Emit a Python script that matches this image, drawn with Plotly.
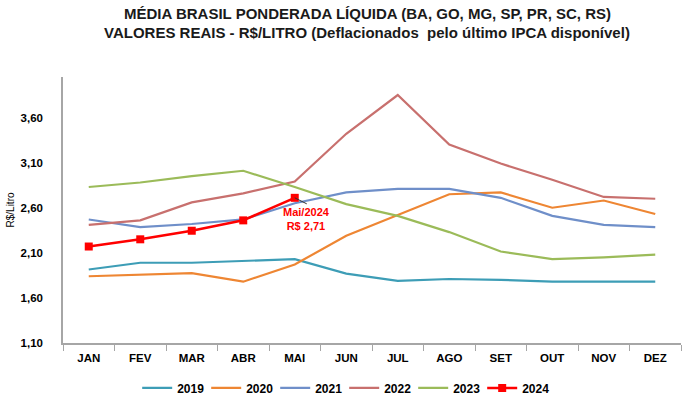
import plotly.graph_objects as go

months = ["JAN", "FEV", "MAR", "ABR", "MAI", "JUN", "JUL", "AGO", "SET", "OUT", "NOV", "DEZ"]
y2019 = [1.915, 1.99, 1.99, 2.01, 2.03, 1.87, 1.79, 1.81, 1.80, 1.78, 1.78, 1.78]
y2020 = [1.84, 1.86, 1.875, 1.78, 1.97, 2.29, 2.52, 2.75, 2.77, 2.60, 2.68, 2.53]
y2021 = [2.47, 2.385, 2.42, 2.47, 2.65, 2.77, 2.81, 2.81, 2.71, 2.51, 2.41, 2.385]
y2022 = [2.41, 2.46, 2.66, 2.76, 2.89, 3.42, 3.85, 3.30, 3.09, 2.91, 2.72, 2.70]
y2023 = [2.83, 2.88, 2.95, 3.01, 2.83, 2.64, 2.51, 2.33, 2.115, 2.03, 2.05, 2.08]
y2024 = [2.17, 2.25, 2.345, 2.46, 2.71]
ytick_vals = [1.10, 1.60, 2.10, 2.60, 3.10, 3.60]
ytick_text = ["1,10", "1,60", "2,10", "2,60", "3,10", "3,60"]
title_lines = ["MÉDIA BRASIL PONDERADA LÍQUIDA (BA, GO, MG, SP, PR, SC, RS)",
               "VALORES REAIS - R$/LITRO (Deflacionados  pelo último IPCA disponível)"]

series = [
    ("2019", y2019, "#3D9DB6"),
    ("2020", y2020, "#EE8633"),
    ("2021", y2021, "#6F8FC9"),
    ("2022", y2022, "#C8706E"),
    ("2023", y2023, "#9BBB59"),
]

font_family = "Liberation Sans, Arial, sans-serif"

fig = go.Figure()
for name, vals, col in series:
    fig.add_trace(go.Scatter(x=months[:len(vals)], y=vals, name="<b>" + name + "</b>", mode="lines",
                             line=dict(color=col, width=2.2)))
fig.add_trace(go.Scatter(x=months[:len(y2024)], y=y2024, name="<b>2024</b>", mode="lines+markers",
                         line=dict(color="#FF0000", width=2.6),
                         marker=dict(symbol="square", size=8, color="#FF0000")))

fig.add_annotation(x="MAI", y=y2024[4], xref="x", yref="y",
                   text="<b>Mai/2024<br>R$ 2,71</b>", showarrow=True,
                   arrowhead=0, arrowwidth=1, arrowcolor="#333333",
                   ax=12, ay=6, xanchor="center", yanchor="top",
                   font=dict(color="#FF0000", size=11, family=font_family))

for i, line in enumerate(title_lines):
    fig.add_annotation(text="<b>" + line + "</b>", xref="paper", yref="paper",
                       x=0.492, y=1.0, yshift=64 - 19 * i, xanchor="center", yanchor="middle",
                       showarrow=False, font=dict(size=15, family=font_family, color="#1a1a1a"))

fig.update_layout(
    width=700, height=398,
    margin=dict(l=63, r=19, t=77, b=55, autoexpand=False),
    paper_bgcolor="white", plot_bgcolor="white",
    font=dict(family=font_family, color="#000000"),
    showlegend=True,
    legend=dict(orientation="h", x=0.455, xanchor="center", y=-0.169, yanchor="middle",
                font=dict(size=12, family=font_family), itemwidth=30,
                entrywidth=24, entrywidthmode="pixels",
                traceorder="normal"),
)
fig.update_xaxes(type="category", categoryorder="array", categoryarray=months,
                 range=[-0.5, 11.5], showline=True, linecolor="#A6A6A6", linewidth=1.5,
                 ticks="outside", tickson="boundaries", ticklen=6, tickcolor="#A6A6A6",
                 showgrid=False, tickfont=dict(size=11.5, family=font_family, color="#000000"),
                 tickprefix="<b>", ticksuffix="</b>", ticklabelstandoff=3, automargin=False)
fig.update_yaxes(range=[1.1, 4.05], tickvals=ytick_vals, ticktext=["<b>" + t + "</b>" for t in ytick_text],
                 showline=True, linecolor="#A6A6A6", linewidth=1.5, showgrid=False, zeroline=False,
                 ticks="", tickfont=dict(size=11.5, family=font_family, color="#000000"),
                 ticklabelstandoff=16,
                 title=dict(text="R$/Litro", font=dict(size=10, family=font_family), standoff=4),
                 automargin=False)

fig.write_html("out.html", config={"displayModeBar": False},
               post_script="document.body.style.margin='0';")
